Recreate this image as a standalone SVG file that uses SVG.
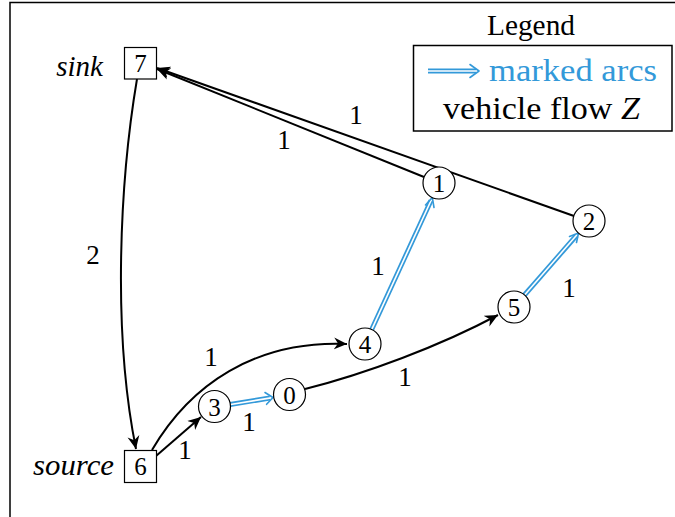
<svg xmlns="http://www.w3.org/2000/svg" width="675" height="517" viewBox="0 0 675 517">
<defs>
<marker id="stealth" viewBox="-13 -7 14 14" refX="0" refY="0" markerWidth="14" markerHeight="14" markerUnits="userSpaceOnUse" orient="auto">
<path d="M0,0 L-13,-6 L-9,0 L-13,6 Z" fill="#000"/>
</marker>
</defs>
<style>
text{font-family:'Liberation Serif','Times New Roman',Tinos,'DejaVu Serif','Noto Serif',serif;fill:#000}
.lbl{font-size:27px;text-anchor:middle}
.num{font-size:25px;text-anchor:middle}
.it{font-style:italic}
.node{fill:#fff;stroke:#000;stroke-width:1.2}
.edge{fill:none;stroke:#000;stroke-width:2;marker-end:url(#stealth)}
.dbl-o{fill:none;stroke:#3399d9;stroke-width:5}
.dbl-i{fill:none;stroke:#fff;stroke-width:1.6}
.tip{fill:none;stroke:#3399d9;stroke-width:1.6;stroke-linecap:round;stroke-linejoin:round}
.frame{fill:none;stroke:#000;stroke-width:1.5}
</style>
<rect width="675" height="517" fill="#fff"/>
<path class="frame" d="M10,517 L10,2.5 L675,2.5"/>

<g id="legend">
<text x="531" y="35" font-size="29" text-anchor="middle" textLength="88" lengthAdjust="spacingAndGlyphs">Legend</text>
<rect x="413.5" y="45.5" width="258.5" height="85.5" fill="#fff" stroke="#000" stroke-width="1.5"/>
<line x1="428" y1="71" x2="476" y2="71" class="dbl-o"/>
<line x1="428" y1="71" x2="477" y2="71" class="dbl-i"/>
<path class="tip" d="M470,64.5 L479,71 L470,77.5"/>
<text x="489" y="81" font-size="31" style="fill:#3399d9" textLength="168" lengthAdjust="spacingAndGlyphs">marked arcs</text>
<text x="443" y="119" font-size="31" textLength="197" lengthAdjust="spacingAndGlyphs">vehicle flow <tspan class="it">Z</tspan></text>
</g>

<g id="connectors">
<line class="edge" x1="574" y1="216" x2="157" y2="68"/>
<line class="edge" x1="424" y1="177" x2="157" y2="69"/>
<path class="edge" d="M137,79 C120,180 112,330 136,449"/>
<path class="edge" d="M152,450 C190,385 255,340 347,344"/>
<line class="edge" x1="156" y1="456" x2="201" y2="417"/>
<path class="edge" d="M305,389 C365,374 440,346 498,315"/>
<g id="m30">
<line class="dbl-o" x1="230" y1="404.5" x2="270" y2="398"/>
<line class="dbl-i" x1="229" y1="404.7" x2="271" y2="397.9"/>
<path class="tip" d="M265,392.5 L273,397.5 L266.6,404.3"/>
</g>
<g id="m41">
<line class="dbl-o" x1="371.7" y1="329.5" x2="431" y2="200.5"/>
<line class="dbl-i" x1="371.2" y1="330.6" x2="431.5" y2="199.5"/>
<path class="tip" d="M425.5,205 L432.3,197.5 L434,207.5"/>
</g>
<g id="m52">
<line class="dbl-o" x1="524.5" y1="295" x2="576.5" y2="235.5"/>
<line class="dbl-i" x1="523.7" y1="296" x2="577.2" y2="234.5"/>
<path class="tip" d="M569.5,236.5 L578.5,233 L576.5,242.5"/>
</g>
</g>

<g id="labels">
<text class="lbl" x="284" y="149">1</text>
<text class="lbl" x="356" y="124">1</text>
<text class="lbl" x="93" y="264">2</text>
<text class="lbl" x="378" y="275">1</text>
<text class="lbl" x="569" y="297">1</text>
<text class="lbl" x="211" y="366">1</text>
<text class="lbl" x="405" y="386">1</text>
<text class="lbl" x="249" y="431">1</text>
<text class="lbl" x="185" y="459">1</text>
</g>

<g id="n7">
<text class="it" x="103" y="76" font-size="29" text-anchor="end">sink</text>
<rect class="node" x="124.5" y="47.5" width="32" height="31.5"/>
<text class="num" x="140.5" y="72">7</text>
</g>
<g id="n6">
<text class="it" x="114" y="475" font-size="29" text-anchor="end" textLength="81" lengthAdjust="spacingAndGlyphs">source</text>
<rect class="node" x="124.5" y="450.5" width="32" height="32"/>
<text class="num" x="140.5" y="475">6</text>
</g>
<g id="n1"><circle class="node" cx="439" cy="183" r="16"/><text class="num" x="439" y="192">1</text></g>
<g id="n2"><circle class="node" cx="589" cy="221" r="16"/><text class="num" x="589" y="230">2</text></g>
<g id="n5"><circle class="node" cx="514" cy="307" r="16"/><text class="num" x="514" y="316">5</text></g>
<g id="n4"><circle class="node" cx="365" cy="344" r="16"/><text class="num" x="365" y="353">4</text></g>
<g id="n3"><circle class="node" cx="214.5" cy="406.5" r="16"/><text class="num" x="214.5" y="415.5">3</text></g>
<g id="n0"><circle class="node" cx="289.5" cy="394.5" r="16"/><text class="num" x="289.5" y="403.5">0</text></g>
</svg>
